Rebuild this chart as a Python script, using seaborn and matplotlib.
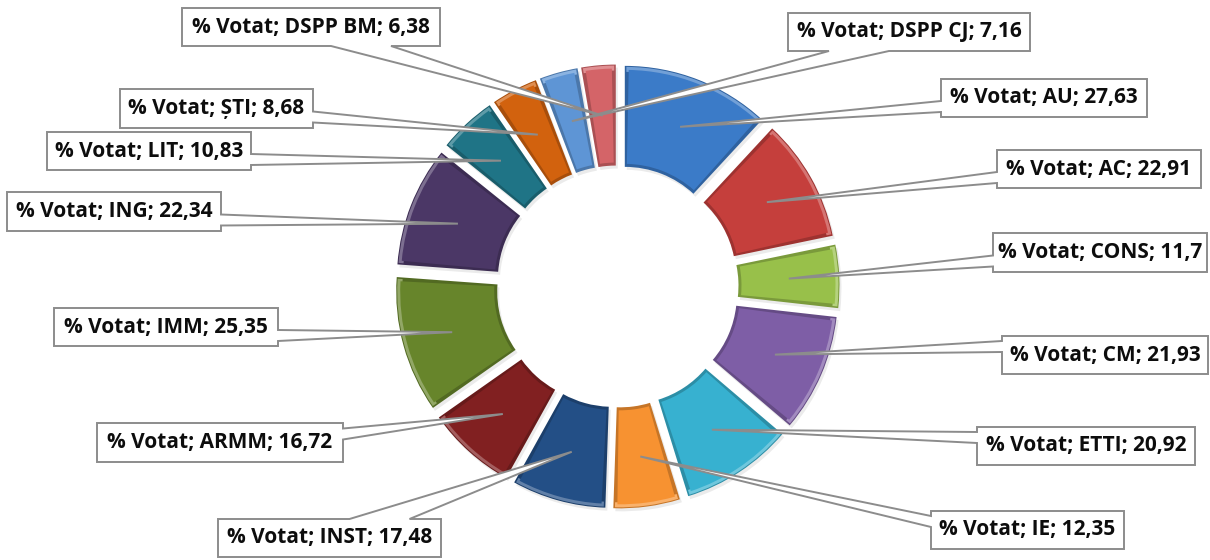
import matplotlib
matplotlib.use("Agg")
import matplotlib.pyplot as plt
from matplotlib.patches import Wedge, Polygon
import matplotlib.colors as mcolors
import numpy as np
import seaborn as sns

# ---- data -------------------------------------------------------------
series_name = "% Votat"
faculties = ["AU", "AC", "CONS", "CM", "ETTI", "IE", "INST", "ARMM",
             "IMM", "ING", "LIT", "ȘTI", "DSPP CJ", "DSPP BM"]
percent_voted = [27.63, 22.91, 11.7, 21.93, 20.92, 12.35, 17.48, 16.72,
                 25.35, 22.34, 10.83, 8.68, 7.16, 6.38]

slice_colors = ["#3B7BC8", "#C53F3C", "#98C04A", "#7E5EA6", "#37B1D0",
                "#F79231", "#234F86", "#812021", "#67852B", "#4B3766",
                "#1F7486", "#D2620E", "#5E95D5", "#D46468"]

# ---- layout (figure pixels, y measured from the top) -------------------
W_PX, H_PX = 1210, 560
CENTER_PX = (617.5, 286.5)
RADIUS = 202.0
HOLE = 0.5
EXPLODE = 20.0

# label boxes: (x0, y0, x1, y1) and the side the pointer leaves from
label_boxes = [(941, 79, 1147, 117), (997, 150, 1201, 188),
               (993, 233, 1207, 272), (1002, 336, 1208, 374),
               (977, 427, 1195, 465), (931, 511, 1124, 549),
               (218, 519, 441, 557), (97, 423, 343, 462),
               (54, 308, 278, 346), (7, 192, 221, 231),
               (47, 132, 251, 170), (120, 89, 313, 128),
               (788, 13, 1030, 51), (182, 8, 440, 46)]
pointer_sides = ["left", "left", "left", "left", "left", "left", "top",
                 "right", "right", "right", "right", "right",
                 "bottom", "bottom"]

sns.set_theme(style="white")
plt.rcParams["font.family"] = ["Open Sans", "DejaVu Sans"]

fig = plt.figure(figsize=(W_PX / 100, H_PX / 100), dpi=100)
ax = fig.add_axes([0, 0, 1, 1])

palette = sns.color_palette(slice_colors)
cx, cy = CENTER_PX[0], H_PX - CENTER_PX[1]

wedges, _ = ax.pie(percent_voted, colors=palette, startangle=90,
                   counterclock=False, radius=RADIUS, center=(cx, cy),
                   explode=[EXPLODE] * len(percent_voted),
                   wedgeprops=dict(width=RADIUS * HOLE, linewidth=0))


def shade(col, f):
    r, g, b = mcolors.to_rgb(col)
    return (r * f, g * f, b * f)


def tint(col, f):
    r, g, b = mcolors.to_rgb(col)
    return (r + (1 - r) * f, g + (1 - g) * f, b + (1 - b) * f)


# bevelled look: dark rim, light outer edge, flat face, faint shadow
anchors = []
for w, col in zip(wedges, palette):
    (wx, wy), r, width = w.center, w.r, w.width
    t1, t2 = w.theta1, w.theta2
    w.set_facecolor(shade(col, 0.8))
    w.set_zorder(2)
    ax.add_patch(Wedge((wx + 2, wy - 3), r, t1, t2, width=width,
                       facecolor="black", alpha=0.08, linewidth=0, zorder=1))
    d = np.degrees(3.0 / (r - width / 2))
    ax.add_patch(Wedge((wx, wy), r - 1, t1 + d * 0.4, t2 - d * 0.4, width=5,
                       facecolor=tint(col, 0.28), linewidth=0, zorder=3))
    ax.add_patch(Wedge((wx, wy), r - 4, t1 + d, t2 - d, width=width - 7,
                       facecolor=col, linewidth=0, zorder=4))
    mid = np.radians((t1 + t2) / 2)
    rm = r - width / 2
    anchors.append((wx + rm * np.cos(mid), wy + rm * np.sin(mid)))


def callout(box, side, tip):
    x0, y0, x1, y1 = box
    tx, ty = tip[0], H_PX - tip[1]          # tip in top-down pixels
    xc, yc = (x0 + x1) / 2, (y0 + y1) / 2
    if side in ("left", "right"):
        b0, b1 = (yc + 3, yc + 14) if ty > yc else (yc - 14, yc - 3)
    else:
        b0, b1 = (xc + 20, xc + 80) if tx > xc else (xc - 80, xc - 20)
    pts = [(x0, y0)]
    if side == "top":
        pts += [(b0, y0), (tx, ty), (b1, y0)]
    pts.append((x1, y0))
    if side == "right":
        pts += [(x1, b0), (tx, ty), (x1, b1)]
    pts.append((x1, y1))
    if side == "bottom":
        pts += [(b1, y1), (tx, ty), (b0, y1)]
    pts.append((x0, y1))
    if side == "left":
        pts += [(x0, b1), (tx, ty), (x0, b0)]
    return [(px, H_PX - py) for px, py in pts]


for name, val, box, side, tip in zip(faculties, percent_voted, label_boxes,
                                     pointer_sides, anchors):
    ax.add_patch(Polygon(callout(box, side, tip), closed=True,
                         facecolor="white", edgecolor="#8C8C8C",
                         linewidth=1.4, zorder=5))
    txt = f"{series_name}; {name}; {str(val).replace('.', ',')}"
    ax.text((box[0] + box[2]) / 2, H_PX - (box[1] + box[3]) / 2, txt,
            ha="center", va="center", fontsize=15, fontweight="bold",
            color="#0D0D0D", zorder=6)

ax.set_xlim(0, W_PX)
ax.set_ylim(0, H_PX)
ax.set_aspect("equal")
ax.axis("off")

fig.savefig("out.png", dpi=100, facecolor="white")
